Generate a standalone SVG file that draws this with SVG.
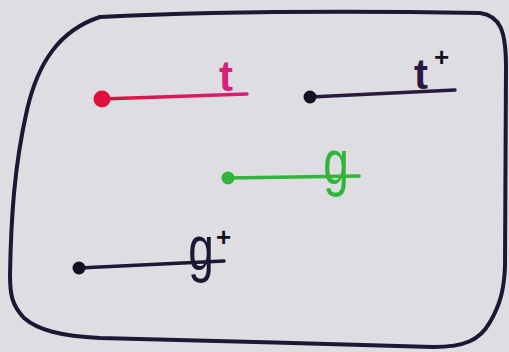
<svg xmlns="http://www.w3.org/2000/svg" width="509" height="352" viewBox="0 0 509 352">
  <defs>
    <linearGradient id="redgrad" x1="0" y1="0" x2="1" y2="0">
      <stop offset="0" stop-color="#e0103c"/>
      <stop offset="1" stop-color="#d8207a"/>
    </linearGradient>
  </defs>
  <style>
    .ink { stroke: #1c1733; fill: none; stroke-linecap: round; stroke-linejoin: round; }
    .frame { stroke-width: 4; }
    .seg { stroke-width: 3.5; stroke-linecap: round; fill: none; }
    .lbl { font-family: "Liberation Sans", "DejaVu Sans", sans-serif; text-anchor: middle; }
    .sup { font-family: "Liberation Sans", "DejaVu Sans", sans-serif; font-weight: bold; }
  </style>
  <rect width="509" height="352" fill="#dedee2"/>
  <path id="frame" class="ink frame" d="M100,17 C200,12 350,11 480,13 C500,16 506,30 506,67 L505,267 C504,290 500,305 490,322 C480,340 465,347 433,347 C330,344 200,340 100,338 C60,336 38,330 24,318 C12,305 10,295 10,275 C11,220 14,167 27,110 C38,62 60,30 100,17 Z"/>
  <g id="connectors">
    <path class="seg" stroke="url(#redgrad)" d="M102,99 L247,94"/>
    <path class="seg" stroke="#2a1a40" d="M310,97 L455,90"/>
    <path class="seg" stroke="#2fb53a" d="M228,178 L359,176"/>
    <path class="seg" stroke="#1c1733" d="M79,268 L224,261"/>
  </g>
  <g id="node-t">
    <circle cx="102" cy="99" r="8.5" fill="#e0103c"/>
    <text class="lbl" x="226" y="91" font-size="42" font-weight="bold" fill="#d8207a">t</text>
  </g>
  <g id="node-tplus">
    <circle cx="310" cy="97" r="6.5" fill="#141022"/>
    <text class="lbl" x="421" y="89" font-size="42" font-weight="bold" fill="#2a1a40">t</text>
    <text class="sup" x="434" y="66" font-size="26" fill="#141022">+</text>
  </g>
  <g id="node-g">
    <circle cx="228" cy="178" r="6.5" fill="#2fb53a"/>
    <text class="lbl" transform="translate(336,184) scale(1,1.35)" x="0" y="0" font-size="46" fill="#2fb53a">g</text>
  </g>
  <g id="node-gplus">
    <circle cx="79" cy="268" r="6.5" fill="#141022"/>
    <text class="lbl" transform="translate(201,270) scale(1,1.35)" x="0" y="0" font-size="46" fill="#1c1733">g</text>
    <text class="sup" x="216" y="246" font-size="26" fill="#141022">+</text>
  </g>
</svg>
